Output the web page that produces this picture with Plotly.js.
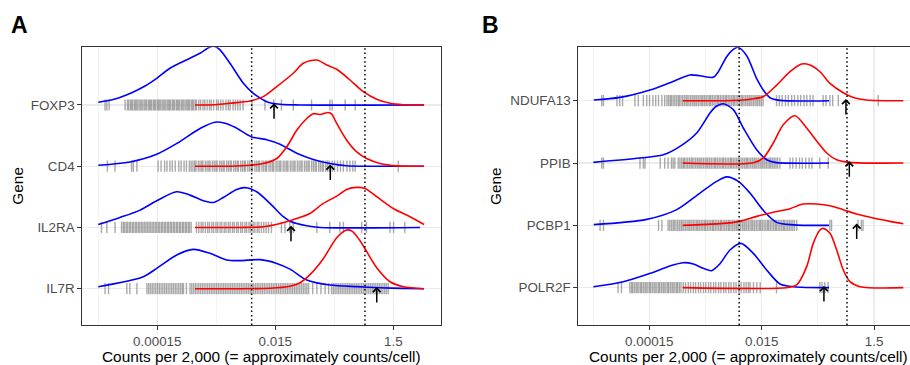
<!DOCTYPE html>
<html><head><meta charset="utf-8">
<script src="https://cdn.plot.ly/plotly-3.0.1.min.js"></script>
<style>html,body{margin:0;padding:0;background:#fff}#chart{width:910px;height:365px}</style>
</head><body><div id="chart"></div>
<script>
// ---- categories / ticks ----
const genesA = ['FOXP3', 'CD4', 'IL2RA', 'IL7R'];
const genesB = ['NDUFA13', 'PPIB', 'PCBP1', 'POLR2F'];
const rowPos = [4, 3, 2, 1];
const xTickVals = [-3.824, -1.824, 0.176];          // log10 of tick values
const xTickText = ['0.00015', '0.015', '1.5'];
const xMinorVals = [-4.824, -2.824, -0.824];
const thresholds = [-2.225, -0.305];                 // dotted cut-offs (log10)
const arrowsA = [-1.846, -0.892, -1.558, -0.105];    // arrow positions (log10), FOXP3..IL7R
const arrowsB = [-0.324, -0.264, -0.133, -0.716];    // NDUFA13..POLR2F

// ---- density curves: x = log10(counts), h = height (fraction of row spacing) ----
const foxp3BlueX = [-4.824,-4.541,-4.258,-4.032,-3.834,-3.609,-3.270,-3.100,-2.931,-2.846,-2.761,-2.592,-2.366,-2.197,-1.970,-1.744,-1.405,0.697];
const foxp3BlueH = [0.044,0.098,0.201,0.310,0.436,0.600,0.763,0.845,0.948,0.956,0.899,0.681,0.355,0.191,0.054,0.011,0,0];
const foxp3RedX = [-3.185,-2.846,-2.592,-2.253,-2.027,-1.800,-1.519,-1.349,-1.122,-0.953,-0.783,-0.558,-0.332,-0.105,0.120,0.346,0.697];
const foxp3RedH = [0,0.005,0.028,0.065,0.136,0.299,0.518,0.681,0.735,0.654,0.583,0.408,0.217,0.093,0.028,0.005,0];

const cd4BlueX = [-4.824,-4.287,-3.834,-3.495,-3.100,-2.846,-2.677,-2.507,-2.224,-1.970,-1.744,-1.461,-1.180,-0.897,-0.614,-0.275,0.697];
const cd4BlueH = [0.016,0.070,0.196,0.371,0.616,0.719,0.703,0.637,0.479,0.433,0.359,0.212,0.111,0.044,0.007,0,0];
const cd4RedX = [-3.185,-2.592,-2.253,-2.027,-1.800,-1.631,-1.461,-1.292,-1.180,-1.066,-0.926,-0.868,-0.783,-0.614,-0.444,-0.275,-0.049,0.234,0.697];
const cd4RedH = [0,0,0.016,0.044,0.126,0.315,0.588,0.779,0.858,0.845,0.877,0.850,0.698,0.425,0.234,0.126,0.044,0.005,0];

const il2raBlueX = [-4.824,-4.456,-4.117,-3.834,-3.495,-3.270,-3.044,-2.875,-2.705,-2.478,-2.338,-2.139,-1.914,-1.688,-1.575,-1.292,-1.066,0.629];
const il2raBlueH = [0.049,0.163,0.283,0.436,0.583,0.528,0.436,0.408,0.490,0.621,0.650,0.583,0.392,0.175,0.103,0.028,0,0];
const il2raRedX = [-3.185,-2.422,-2.027,-1.744,-1.461,-1.236,-1.011,-0.783,-0.614,-0.444,-0.304,-0.105,0.176,0.459,0.697];
const il2raRedH = [0,0,0.011,0.065,0.147,0.229,0.392,0.511,0.621,0.654,0.637,0.502,0.310,0.175,0.049];

const il7rBlueX = [-4.824,-4.061,-3.834,-3.495,-3.214,-2.931,-2.648,-2.422,-2.083,-1.800,-1.575,-1.292,-0.897,-0.444,-0.049,0.346,0.697];
const il7rBlueH = [0.033,0.196,0.332,0.551,0.642,0.577,0.469,0.458,0.474,0.413,0.319,0.142,0.060,0.033,0.016,0.005,0];
const il7rRedX = [-3.185,-1.914,-1.575,-1.405,-1.236,-1.011,-0.783,-0.626,-0.524,-0.388,-0.275,-0.105,0.120,0.346,0.697];
const il7rRedH = [0,0.008,0.041,0.098,0.229,0.490,0.833,0.956,0.940,0.784,0.605,0.343,0.114,0.033,0];

const ndufa13BlueX = [-4.813,-4.345,-3.812,-3.456,-3.100,-2.922,-2.685,-2.596,-2.447,-2.329,-2.246,-2.091,-1.913,-1.796,-1.676,-1.498,-0.626];
const ndufa13BlueH = [0.011,0.053,0.172,0.289,0.413,0.401,0.377,0.465,0.706,0.823,0.857,0.722,0.353,0.172,0.048,0.005,0];
const ndufa13RedX = [-3.230,-2.210,-1.973,-1.796,-1.557,-1.320,-1.112,-0.964,-0.786,-0.608,-0.372,-0.194,0.044,0.697];
const ndufa13RedH = [0,0.008,0.032,0.064,0.250,0.465,0.589,0.573,0.465,0.278,0.128,0.053,0.011,0];

const ppibBlueX = [-4.820,-3.989,-3.575,-3.278,-2.981,-2.744,-2.637,-2.507,-2.329,-2.151,-1.913,-1.735,-1.587,-0.626];
const ppibBlueH = [0.011,0.080,0.133,0.268,0.482,0.803,0.907,0.952,0.856,0.562,0.213,0.053,0.011,0];
const ppibRedX = [-3.230,-1.973,-1.796,-1.618,-1.440,-1.231,-1.023,-0.845,-0.667,-0.489,-0.252,0.697];
const ppibRedH = [0,0.005,0.080,0.321,0.615,0.759,0.562,0.353,0.161,0.053,0.011,0];

const pcbp1BlueX = [-4.813,-3.870,-3.336,-2.922,-2.625,-2.447,-2.240,-2.032,-1.796,-1.557,-1.262,-0.626];
const pcbp1BlueH = [0.011,0.096,0.252,0.518,0.706,0.778,0.706,0.518,0.241,0.048,0.008,0];
const pcbp1RedX = [-3.230,-2.566,-2.210,-1.913,-1.618,-1.320,-1.084,-0.845,-0.608,-0.372,-0.134,0.162,0.460,0.697];
const pcbp1RedH = [0,0.027,0.064,0.144,0.209,0.268,0.342,0.342,0.316,0.252,0.181,0.117,0.064,0.027];

const polr2fBlueX = [-4.820,-4.287,-3.812,-3.456,-3.219,-3.041,-2.863,-2.714,-2.566,-2.388,-2.192,-1.973,-1.735,-1.498,-1.262,-0.626];
const polr2fBlueH = [0.016,0.096,0.230,0.348,0.401,0.380,0.310,0.273,0.385,0.605,0.711,0.551,0.284,0.059,0.016,0];
const polr2fRedX = [-3.230,-1.379,-1.201,-1.023,-0.906,-0.786,-0.728,-0.608,-0.489,-0.372,-0.252,-0.074,0.697];
const polr2fRedH = [0,0,0.043,0.337,0.711,0.926,0.952,0.872,0.605,0.284,0.096,0.016,0];

// ---- rug (observed cells, log10) ----
const rugFOXP3 = [-4.71,-4.68,-4.64,-4.37,
 -4.33,-4.31,-4.28,-4.26,-4.24,-4.21,-4.19,-4.17,-4.15,-4.12,-4.10,-4.08,-4.05,-4.03,-4.01,-3.98,-3.96,-3.94,-3.92,-3.89,-3.87,-3.85,-3.82,-3.80,-3.78,-3.76,-3.73,-3.71,-3.69,-3.66,-3.64,-3.62,-3.60,-3.57,-3.55,-3.53,-3.50,-3.48,-3.46,-3.44,-3.41,-3.39,-3.37,-3.34,-3.32,-3.30,-3.28,-3.25,-3.23,-3.21,-3.18,-3.16,
 -3.12,-3.09,-3.05,-3.02,-2.98,-2.94,-2.91,-2.87,-2.82,-2.79,-2.75,-2.71,-2.66,-2.62,-2.59,-2.54,-2.50,-2.46,-2.42,
 -2.37,-2.22,-2.00,-1.85,-1.72,-1.52,-1.21,-0.90,-0.86,-0.64,-0.47];
const rugCD4 = [-4.67,-4.54,-4.26,-4.23,-4.17,
 -3.81,-3.76,-3.70,-3.66,-3.61,-3.57,-3.52,-3.46,-3.42,-3.37,-3.33,-3.28,
 -3.25,-3.22,-3.19,-3.17,-3.13,-3.10,-3.07,-3.05,-3.01,-2.98,-2.95,-2.93,-2.89,-2.86,-2.83,-2.81,-2.77,-2.74,-2.71,-2.69,-2.65,-2.62,-2.59,-2.57,-2.53,-2.50,-2.47,-2.45,-2.41,-2.38,-2.35,-2.33,-2.29,-2.26,-2.23,-2.21,-2.17,-2.14,-2.11,-2.09,-2.05,-2.02,-1.99,-1.97,-1.93,-1.90,-1.87,-1.85,-1.81,-1.78,-1.75,-1.73,-1.69,-1.66,-1.63,-1.61,-1.57,-1.54,-1.51,-1.49,-1.45,-1.42,-1.39,-1.37,-1.33,-1.30,-1.27,-1.25,-1.21,-1.18,-1.15,-1.13,-1.09,-1.06,-1.03,-1.01,-0.97,-0.94,-0.91,
 -0.86,-0.82,-0.77,-0.72,-0.67,-0.61,-0.56,-0.51,-0.47,
 0.26];
const rugIL2RA = [-4.77,-4.68,-4.54,
 -4.43,-4.40,-4.38,-4.35,-4.33,-4.30,-4.28,-4.25,-4.23,-4.20,-4.18,-4.15,-4.13,-4.10,-4.08,-4.05,-4.03,-4.00,-3.98,-3.95,-3.93,-3.90,-3.88,-3.85,-3.83,-3.80,-3.78,-3.75,-3.73,-3.70,-3.68,-3.65,-3.63,-3.60,-3.58,-3.55,-3.53,-3.50,-3.48,-3.45,-3.43,-3.40,-3.38,-3.35,-3.33,-3.30,-3.28,-3.25,
 -3.16,-3.12,-3.08,-3.05,-3.01,-2.97,-2.94,-2.90,-2.87,-2.83,-2.80,-2.76,-2.73,-2.69,-2.66,-2.62,-2.59,-2.55,-2.52,-2.48,-2.45,-2.41,-2.38,-2.34,-2.31,-2.27,-2.24,-2.20,-2.17,-2.13,-2.10,-2.06,-2.02,-1.98,-1.94,-1.89,
 -1.72,-1.66,-1.58,-1.52,-1.12,-0.90,-0.73,-0.67,-0.36,-0.28,0.12,0.18,0.37];
const rugIL7R = [-4.71,-4.65,-4.34,-4.29,-4.17,
 -4.00,-3.97,-3.94,-3.91,-3.88,-3.85,-3.82,-3.79,-3.76,-3.73,-3.70,-3.67,-3.64,-3.61,-3.58,-3.55,-3.52,-3.49,-3.46,-3.43,-3.40,-3.38,
 -3.33,
 -3.27,-3.24,-3.21,-3.18,-3.15,-3.12,-3.09,-3.06,-3.03,-3.00,-2.97,-2.94,-2.91,-2.88,-2.85,-2.82,-2.79,-2.76,-2.73,-2.70,-2.67,-2.64,-2.61,-2.58,-2.55,-2.52,-2.49,-2.46,-2.43,-2.40,-2.37,-2.34,-2.31,-2.28,-2.25,-2.22,-2.19,-2.16,-2.13,-2.10,-2.07,-2.04,-2.01,-1.98,-1.95,-1.92,-1.89,-1.86,-1.83,-1.80,-1.77,-1.74,-1.71,-1.68,-1.65,-1.62,-1.59,-1.56,-1.53,-1.50,-1.47,-1.44,-1.41,-1.38,-1.35,-1.32,-1.29,-1.26,
 -1.19,-1.12,-1.05,-0.98,-0.92,
 -0.87,-0.84,-0.81,-0.78,-0.75,-0.72,-0.69,-0.66,-0.63,-0.60,-0.57,-0.54,-0.51,-0.48,-0.45,-0.42,-0.39,-0.36,-0.33,-0.30,-0.27,-0.24,-0.21,-0.18,-0.15,-0.12,-0.09,-0.06,-0.03,0.00,0.03,0.06,0.09];
const rugNDUFA13 = [-4.67,-4.64,-4.40,-4.35,-4.30,-4.08,-4.02,
 -3.93,-3.87,-3.82,-3.76,-3.71,-3.66,-3.60,-3.55,
 -3.51,-3.48,-3.45,-3.43,-3.40,-3.37,-3.34,-3.31,-3.29,-3.26,-3.23,-3.20,-3.17,-3.15,-3.12,-3.09,-3.06,-3.03,-3.01,-2.98,-2.95,-2.92,-2.89,-2.87,-2.84,-2.81,-2.78,-2.75,-2.73,-2.70,-2.67,-2.64,-2.61,-2.59,-2.56,-2.53,-2.50,-2.47,-2.45,-2.42,-2.39,-2.36,-2.33,-2.31,-2.28,-2.25,-2.22,-2.19,-2.17,-2.14,-2.11,-2.08,-2.05,-2.03,-2.00,-1.97,-1.94,-1.91,-1.89,-1.86,-1.83,-1.80,
 -1.56,-1.51,-1.46,-1.40,-1.35,-1.29,-1.24,-1.18,-1.13,-1.07,-1.02,-0.96,-0.91,
 -0.73,-0.68,-0.61,-0.56,-0.46,0.25];
const rugPPIB = [-4.67,-4.64,-3.99,-3.93,-3.90,-3.63,-3.55,-3.49,-3.43,-3.40,-3.37,
 -3.31,-3.28,-3.25,-3.22,-3.20,-3.17,-3.14,-3.11,-3.08,-3.06,-3.03,-3.00,-2.97,-2.94,-2.92,-2.89,-2.86,-2.83,-2.80,-2.78,-2.75,-2.72,-2.69,-2.66,-2.64,-2.61,-2.58,-2.55,-2.52,-2.50,-2.47,-2.44,-2.41,-2.38,-2.36,-2.33,-2.30,-2.27,-2.24,-2.22,-2.19,-2.16,-2.13,-2.10,-2.08,-2.05,-2.02,-1.99,-1.96,-1.94,-1.91,-1.88,-1.85,-1.82,-1.80,-1.77,-1.74,-1.71,-1.68,-1.66,-1.63,-1.60,-1.57,-1.54,-1.50,
 -1.32,-1.27,-1.21,-1.15,-1.10,-1.04,-0.98,-0.93,-0.79,-0.64];
const rugPCBP1 = [-4.70,-4.64,-3.66,-3.60,
 -3.49,-3.46,-3.43,-3.40,-3.38,-3.35,-3.32,-3.29,-3.26,-3.24,-3.21,-3.18,-3.15,-3.12,-3.10,-3.07,-3.04,-3.01,-2.98,-2.96,-2.93,-2.90,-2.87,-2.84,-2.82,-2.79,-2.76,-2.73,-2.70,-2.68,-2.65,-2.62,-2.59,-2.56,-2.54,-2.51,-2.48,-2.45,-2.42,-2.40,-2.37,-2.34,-2.31,-2.28,-2.26,-2.23,-2.20,-2.17,-2.14,-2.12,-2.09,-2.06,-2.03,-2.00,-1.98,-1.95,-1.92,-1.89,-1.86,-1.84,-1.81,-1.78,-1.75,-1.72,-1.70,-1.67,-1.64,-1.61,-1.58,-1.56,-1.53,-1.50,-1.47,-1.44,-1.42,-1.39,-1.36,-1.33,-1.30,-1.27,-1.24,-1.20,
 -0.61,-0.58,-0.11,-0.05,-0.02];
const rugPOLR2F = [-4.38,-4.32,
 -4.17,-4.14,-4.12,-4.09,-4.06,-4.04,-4.01,-3.98,-3.96,-3.93,-3.90,-3.88,-3.85,-3.82,-3.80,-3.77,-3.74,-3.72,-3.69,-3.66,-3.64,-3.61,-3.58,-3.56,-3.53,-3.50,-3.48,-3.45,-3.42,-3.40,-3.37,-3.34,-3.32,-3.29,-3.26,
 -3.22,-3.18,-3.13,-3.09,-3.04,-3.00,-2.95,-2.91,-2.86,-2.82,-2.77,-2.73,-2.68,-2.64,-2.59,-2.55,-2.50,-2.46,-2.41,-2.37,-2.32,-2.28,-2.23,-2.19,-2.14,-2.10,-2.06,-2.03,
 -1.97,-1.91,-1.85,-1.56,-0.79,-0.75,-0.70,-0.64];

// ---- assemble ----
const yRangeA = [0.407, 4.942];
const yRangeB = [0.401, 4.857];
const panels = [
  {xa: 'x', ya: 'y', yr: yRangeA, arrows: arrowsA,
   rugs: [rugFOXP3, rugCD4, rugIL2RA, rugIL7R],
   blue: [[foxp3BlueX, foxp3BlueH], [cd4BlueX, cd4BlueH], [il2raBlueX, il2raBlueH], [il7rBlueX, il7rBlueH]],
   red: [[foxp3RedX, foxp3RedH], [cd4RedX, cd4RedH], [il2raRedX, il2raRedH], [il7rRedX, il7rRedH]]},
  {xa: 'x2', ya: 'y2', yr: yRangeB, arrows: arrowsB,
   rugs: [rugNDUFA13, rugPPIB, rugPCBP1, rugPOLR2F],
   blue: [[ndufa13BlueX, ndufa13BlueH], [ppibBlueX, ppibBlueH], [pcbp1BlueX, pcbp1BlueH], [polr2fBlueX, polr2fBlueH]],
   red: [[ndufa13RedX, ndufa13RedH], [ppibRedX, ppibRedH], [pcbp1RedX, pcbp1RedH], [polr2fRedX, polr2fRedH]]}
];

const traces = [];
const annotations = [];
const rugColor = 'rgba(140,140,140,0.75)';
panels.forEach(p => {
  p.rugs.forEach((r, i) => {
    traces.push({x: r, y: r.map(() => rowPos[i]), xaxis: p.xa, yaxis: p.ya, type: 'scatter', mode: 'markers',
      hoverinfo: 'skip',
      marker: {symbol: 'line-ns-open', size: 8, color: rugColor, line: {width: 1.4, color: rugColor}}});
  });
  p.blue.forEach((c, i) => {
    traces.push({x: c[0], y: c[1].map(h => rowPos[i] + h), xaxis: p.xa, yaxis: p.ya, type: 'scatter', mode: 'lines',
      line: {color: '#0000ff', width: 1.6, shape: 'spline', smoothing: 0.8}});
  });
  p.red.forEach((c, i) => {
    traces.push({x: c[0], y: c[1].map(h => rowPos[i] + h), xaxis: p.xa, yaxis: p.ya, type: 'scatter', mode: 'lines',
      line: {color: '#ff0000', width: 1.6, shape: 'spline', smoothing: 0.8}});
  });
  thresholds.forEach(t => {
    traces.push({x: [t, t], y: p.yr, xaxis: p.xa, yaxis: p.ya, type: 'scatter', mode: 'lines',
      line: {color: '#000000', width: 1.5, dash: '1.5px,2.8px'}});
  });
  p.arrows.forEach((a, i) => {
    annotations.push({xref: p.xa, yref: p.ya, x: a, y: rowPos[i] + 0.028, ax: 0, ay: 17, text: '',
      showarrow: true, arrowhead: 4, arrowsize: 1, arrowwidth: 1.5, arrowcolor: '#000000'});
  });
});

const FONT = 'Liberation Sans, Arial, Helvetica, sans-serif';
const txt = (s, x, y, extra) => Object.assign({xref: 'paper', yref: 'paper', x: x, y: y, text: s, showarrow: false,
  font: {family: FONT, size: 15.4, color: '#000000'}}, extra || {});
annotations.push(txt('Counts per 2,000 (= approximately counts/cell)', 261.2 / 910, 0.022, {xanchor: 'center', yanchor: 'middle'}));
annotations.push(txt('Counts per 2,000 (= approximately counts/cell)', 748.3 / 910, 0.022, {xanchor: 'center', yanchor: 'middle'}));
annotations.push(txt('Gene', 16.7 / 910, (365 - 186) / 365, {textangle: -90, xanchor: 'center', yanchor: 'middle'}));
annotations.push(txt('Gene', 495 / 910, (365 - 186) / 365, {textangle: -90, xanchor: 'center', yanchor: 'middle'}));
annotations.push(txt('<b>A</b>', 8.5 / 910, (365 - 24.5) / 365, {xanchor: 'left', yanchor: 'middle', font: {family: FONT, size: 23, color: '#000'}}));
annotations.push(txt('<b>B</b>', 480 / 910, (365 - 24.5) / 365, {xanchor: 'left', yanchor: 'middle', font: {family: FONT, size: 23, color: '#000'}}));

const tickFont = {family: FONT, size: 13.4, color: '#4d4d4d'};
const xBase = {
  tickmode: 'array', tickvals: xTickVals, ticktext: xTickText, ticks: 'outside', ticklen: 4, tickwidth: 1, tickcolor: '#333333',
  showline: true, linecolor: '#333333', linewidth: 1, mirror: true, zeroline: false,
  showgrid: true, gridcolor: '#ebebeb', gridwidth: 1.1, tickfont: tickFont, fixedrange: true,
  minor: {tickmode: 'array', tickvals: xMinorVals, showgrid: true, gridcolor: '#ebebeb', gridwidth: 0.6, ticks: ''}
};
const yBase = {
  tickmode: 'array', tickvals: rowPos, ticks: 'outside', ticklen: 4, tickwidth: 1, tickcolor: '#333333',
  showline: true, linecolor: '#333333', linewidth: 1, zeroline: false,
  showgrid: true, gridcolor: '#ebebeb', gridwidth: 1.1, tickfont: tickFont, fixedrange: true
};
const layout = {
  width: 910, height: 365, margin: {l: 0, r: 0, t: 0, b: 0, pad: 0},
  paper_bgcolor: '#ffffff', plot_bgcolor: '#ffffff', showlegend: false,
  xaxis: Object.assign({}, xBase, {domain: [82.3 / 910, 440.7 / 910], range: [-5.095, 0.979], anchor: 'y'}),
  yaxis: Object.assign({}, yBase, {domain: [40 / 365, 317.7 / 365], range: yRangeA, ticktext: genesA, mirror: true, anchor: 'x'}),
  xaxis2: Object.assign({}, xBase, {domain: [578.3 / 910, 1], range: [-5.088, 0.816], anchor: 'y2'}),
  yaxis2: Object.assign({}, yBase, {domain: [40 / 365, 317.7 / 365], range: yRangeB, ticktext: genesB, mirror: false, anchor: 'x2'}),
  annotations: annotations
};
Plotly.newPlot('chart', traces, layout, {displayModeBar: false, staticPlot: true});
</script></body></html>
